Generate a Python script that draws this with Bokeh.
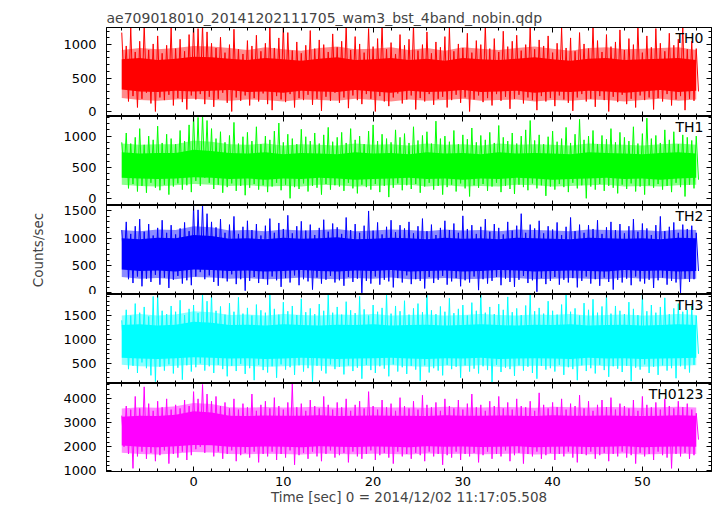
import numpy as np
from bokeh.plotting import figure
from bokeh.models import Range1d, LinearAxis, SingleIntervalTicker, Label, CustomJSTickFormatter
from bokeh.layouts import column
from bokeh.embed import file_html
from bokeh.resources import INLINE

TITLE = "ae709018010_20141202111705_wam3_bst_4band_nobin.qdp"
X_LABEL = "Time [sec] 0 = 2014/12/02 11:17:05.508"
Y_LABEL = "Counts/sec"
BANDS = ["TH0", "TH1", "TH2", "TH3", "TH0123"]
COLORS = ["#ff0000", "#00ff00", "#0000ff", "#00ffff", "#ff00ff"]

T_START = -8.0      # first time bin [sec]
PEAK_STEP = 0.5     # spacing of the peak / trough samples [sec]
CORE_STEP = 2.0     # spacing of the dense-band samples [sec]

# ---- TH0 ----
th0_hi = [1180, 980, 1250, 890, 1050, 1300, 920, 1010, 1130, 870, 990, 1260, 940, 1080, 900, 1150,
          1300, 1240, 1300, 1190, 1020, 950, 1110, 880, 1000, 1230, 930, 860, 1060, 980, 1140, 900,
          1020, 1270, 950, 1100, 1300, 1180, 910, 1040, 870, 990, 1210, 940, 1070, 1000, 890, 1160,
          960, 1050, 1300, 920, 1120, 1010, 880, 1240, 970, 1090, 1300, 930, 1030, 860, 1150, 990,
          1080, 1300, 910, 1000, 1190, 870, 1040, 960, 1120, 1260, 900, 1010, 950, 1170, 880, 1060,
          1000, 1300, 940, 1090, 890, 1200, 970, 1050, 1140, 910, 1000, 1280, 930, 1070, 980, 1130,
          880, 1020, 1250, 950, 1100, 900, 1180, 1010, 940, 1300, 1060, 890, 1150, 970, 1040, 1220,
          920, 1090, 1000, 1300, 880, 1130, 960, 1240, 1020, 900, 1170, 990, 1080, 1300, 930, 1050,
          940]
th0_lo = [420, 150, 230, 60, 190, 280, 120, 0, 210, 170, 250, 90, 200, 140, 30, 240,
          180, 260, 110, 220, 70, 190, 280, 130, 0, 210, 160, 240, 90, 200, 150, 270,
          110, 20, 230, 180, 140, 260, 60, 200, 170, 250, 100, 190, 10, 220, 160, 280,
          130, 210, 50, 240, 170, 110, 260, 190, 0, 230, 150, 80, 210, 270, 120, 180,
          240, 30, 200, 150, 260, 100, 190, 220, 60, 170, 250, 130, 210, 0, 180, 240,
          140, 200, 90, 260, 160, 220, 40, 190, 250, 120, 210, 170, 20, 230, 150, 200,
          80, 240, 180, 130, 10, 210, 260, 150, 190, 70, 230, 170, 0, 220, 140, 250,
          110, 190, 60, 240, 170, 210, 30, 200, 150, 260, 90, 180, 230, 20, 190, 160,
          300]
th0_core_lo = [330, 300, 290, 310, 300, 310, 320, 290, 300, 280, 310, 300, 290, 320, 300, 280, 310,
               290, 300, 320, 290, 300, 310, 280, 300, 290, 310, 300, 280, 300, 320, 290, 310]
th0_core_hi = [780, 800, 770, 790, 820, 810, 790, 770, 800, 780, 760, 790, 810, 770, 780, 800, 770,
               790, 760, 800, 780, 770, 790, 810, 780, 760, 790, 800, 770, 780, 790, 800, 770]
th0_fringe_lo = [200, 170, 160, 180, 190, 170, 160, 180, 170, 150, 180, 170, 160, 190, 170, 150, 180,
                 160, 170, 190, 160, 170, 180, 150, 170, 160, 180, 170, 150, 170, 190, 160, 180]
th0_fringe_hi = [920, 950, 930, 950, 980, 970, 950, 920, 960, 930, 910, 950, 970, 930, 940, 960, 920,
                 950, 910, 960, 940, 920, 950, 970, 940, 910, 950, 960, 930, 940, 950, 960, 920]

# ---- TH1 ----
th1_hi = [900, 1050, 880, 980, 1120, 860, 1000, 940, 1160, 890, 1030, 960, 870, 1090, 920, 1180,
          1340, 1300, 1340, 1250, 1120, 960, 1070, 900, 1010, 1220, 880, 990, 1060, 920, 1150, 870,
          1000, 940, 1080, 1210, 900, 1030, 960, 870, 1110, 990, 920, 1050, 880, 1020, 1140, 910,
          980, 1060, 890, 1120, 940, 1000, 870, 1080, 1180, 920, 1030, 960, 900, 1100, 980, 1040,
          890, 1150, 930, 1010, 1070, 880, 1240, 960, 1000, 910, 1090, 870, 1020, 950, 1130, 900,
          1010, 940, 1060, 890, 1170, 980, 920, 1050, 880, 1000, 1100, 1250, 930, 1020, 870, 990,
          1080, 910, 960, 1140, 890, 1030, 1270, 940, 1000, 1090, 870, 1010, 950, 1120, 900, 1060,
          980, 920, 1150, 880, 1040, 1290, 960, 1010, 890, 1100, 940, 1070, 870, 1020, 980, 930,
          1000]
th1_lo = [380, 160, 230, 110, 200, 90, 250, 170, 130, 220, 60, 190, 240, 140, 210, 100,
          280, 200, 330, 250, 150, 220, 90, 180, 240, 120, 200, 50, 170, 230, 140, 210,
          100, 190, 250, 130, 220, 0, 180, 150, 240, 110, 200, 170, 60, 230, 140, 210,
          190, 120, 250, 160, 80, 220, 180, 140, 230, 100, 200, 20, 170, 240, 130, 210,
          150, 230, 90, 190, 250, 140, 200, 60, 180, 220, 110, 240, 160, 30, 210, 170,
          230, 120, 190, 250, 100, 200, 150, 70, 220, 180, 130, 240, 160, 210, 40, 190,
          140, 230, 180, 100, 250, 160, 210, 0, 190, 140, 230, 120, 200, 170, 80, 220,
          150, 240, 110, 190, 60, 210, 170, 230, 140, 200, 100, 250, 180, 30, 220, 160,
          300]
th1_core_lo = [330, 320, 310, 320, 340, 330, 310, 320, 300, 320, 310, 330, 320, 300, 310, 320, 330,
               310, 320, 300, 320, 310, 330, 320, 300, 310, 320, 330, 310, 320, 300, 320, 330]
th1_core_hi = [740, 720, 730, 730, 780, 760, 730, 720, 740, 710, 730, 720, 710, 740, 720, 730, 710,
               740, 720, 730, 710, 740, 720, 730, 720, 710, 740, 730, 720, 710, 730, 740, 720]
th1_fringe_lo = [220, 200, 190, 210, 230, 220, 200, 210, 190, 200, 190, 220, 210, 190, 200, 210, 220,
                 190, 210, 190, 200, 190, 220, 210, 190, 200, 210, 220, 190, 200, 190, 210, 220]
th1_fringe_hi = [880, 860, 870, 870, 930, 910, 870, 860, 880, 850, 870, 860, 850, 880, 860, 870, 850,
                 880, 860, 870, 850, 880, 860, 870, 860, 850, 880, 870, 860, 850, 870, 880, 860]

# ---- TH2 ----
th2_hi = [1150, 1300, 1080, 1220, 1350, 1120, 1260, 1050, 1190, 1330, 1100, 1240, 1070, 1180, 1290, 1130,
          1600, 1520, 1620, 1450, 1300, 1200, 1350, 1100, 1250, 1400, 1080, 1210, 1320, 1150, 1260, 1050,
          1230, 1360, 1100, 1280, 1170, 1420, 1090, 1220, 1310, 1140, 1250, 1060, 1190, 1340, 1120, 1270,
          1200, 1080, 1380, 1150, 1260, 1100, 1230, 1500, 1140, 1290, 1070, 1210, 1330, 1110, 1240, 1180,
          1300, 1090, 1220, 1360, 1130, 1250, 1060, 1190, 1320, 1150, 1270, 1100, 1410, 1170, 1240, 1080,
          1210, 1350, 1120, 1260, 1190, 1070, 1300, 1140, 1230, 1450, 1100, 1250, 1180, 1320, 1090, 1220,
          1160, 1290, 1060, 1210, 1380, 1130, 1250, 1100, 1240, 1170, 1330, 1080, 1200, 1300, 1150, 1260,
          1090, 1220, 1350, 1120, 1270, 1180, 1060, 1240, 1400, 1130, 1210, 1290, 1100, 1250, 1170, 1230,
          1100]
th2_lo = [500, 250, 180, 300, 120, 260, 200, 330, 150, 280, 90, 240, 310, 170, 230, 140,
          300, 380, 250, 320, 200, 130, 270, 210, 340, 160, 250, 40, 220, 290, 180, 260,
          150, 300, 230, 110, 270, 190, 320, 140, 250, 210, 60, 280, 170, 240, 310, 190,
          230, 130, 290, 200, 260, 0, 220, 170, 300, 150, 240, 210, 100, 270, 190, 320,
          160, 250, 220, 80, 290, 180, 240, 310, 150, 210, 270, 120, 230, 190, 300, 50,
          250, 170, 220, 290, 140, 260, 200, 110, 240, 310, 180, 230, 20, 270, 160, 220,
          290, 150, 240, 190, 270, 100, 220, 300, 170, 250, 130, 280, 200, 60, 240, 190,
          260, 140, 300, 210, 170, 240, 90, 230, 280, 150, 220, 190, 0, 260, 200, 250,
          400]
th2_core_lo = [430, 400, 410, 390, 430, 420, 400, 410, 390, 400, 420, 400, 390, 410, 400, 420, 390,
               400, 410, 390, 400, 420, 410, 390, 400, 410, 400, 390, 420, 400, 410, 390, 400]
th2_core_hi = [1000, 980, 1010, 1000, 1060, 1040, 990, 1000, 980, 1010, 990, 1000, 1020, 980, 990, 1010, 1000,
               980, 1010, 990, 1000, 980, 1010, 1000, 990, 980, 1010, 1000, 990, 1000, 980, 1010, 1000]
th2_fringe_lo = [290, 260, 270, 250, 290, 280, 260, 270, 250, 260, 280, 260, 250, 270, 260, 280, 250,
                 260, 270, 250, 260, 280, 270, 250, 260, 270, 260, 250, 280, 260, 270, 250, 260]
th2_fringe_hi = [1150, 1130, 1160, 1150, 1220, 1200, 1140, 1150, 1130, 1160, 1140, 1150, 1170, 1130, 1140, 1160, 1150,
                 1130, 1160, 1140, 1150, 1130, 1160, 1150, 1140, 1130, 1160, 1150, 1140, 1150, 1130, 1160, 1150]

# ---- TH3 ----
th3_hi = [1400, 1620, 1500, 1750, 1560, 1680, 1480, 1900, 1950, 1600, 1530, 1700, 1580, 1820, 1510, 1640,
          1720, 1550, 1950, 1800, 1950, 1600, 1690, 1520, 1760, 1580, 1880, 1540, 1660, 1500, 1730, 1610,
          1560, 1950, 1640, 1520, 1780, 1590, 1700, 1510, 1850, 1570, 1650, 1530, 1740, 1600, 1950, 1560,
          1680, 1520, 1790, 1610, 1550, 1900, 1630, 1500, 1720, 1580, 1660, 1950, 1540, 1700, 1590, 1810,
          1520, 1650, 1750, 1570, 1950, 1610, 1530, 1690, 1580, 1860, 1550, 1640, 1720, 1500, 1770, 1600,
          1950, 1560, 1680, 1530, 1740, 1620, 1890, 1570, 1650, 1510, 1710, 1950, 1590, 1660, 1540, 1800,
          1600, 1520, 1730, 1950, 1580, 1650, 1500, 1760, 1620, 1840, 1560, 1690, 1950, 1540, 1700, 1600,
          1530, 1780, 1640, 1510, 1950, 1590, 1720, 1560, 1680, 1870, 1530, 1650, 1750, 1580, 1620, 1700,
          1500]
th3_lo = [700, 380, 450, 300, 520, 400, 250, 120, 430, 350, 480, 290, 410, 160, 460, 330,
          420, 500, 350, 440, 300, 470, 380, 230, 450, 340, 490, 280, 400, 150, 470, 360,
          310, 440, 200, 480, 370, 420, 260, 460, 330, 400, 120, 450, 350, 290, 480, 380,
          430, 270, 460, 340, 410, 180, 470, 360, 300, 440, 390, 230, 480, 330, 420, 280,
          450, 370, 140, 460, 310, 400, 350, 250, 470, 380, 430, 200, 460, 330, 390, 290,
          440, 360, 110, 470, 320, 410, 380, 240, 460, 350, 430, 300, 180, 450, 370, 400,
          330, 470, 260, 420, 380, 150, 460, 340, 400, 290, 470, 360, 220, 440, 390, 320,
          450, 130, 410, 370, 480, 300, 430, 260, 460, 350, 400, 190, 440, 380, 310, 470,
          700]
th3_core_lo = [620, 600, 590, 610, 630, 620, 600, 610, 590, 600, 620, 610, 590, 600, 610, 620, 600,
               590, 610, 600, 620, 590, 600, 610, 600, 590, 620, 600, 610, 590, 600, 610, 620]
th3_core_hi = [1300, 1320, 1290, 1310, 1370, 1350, 1300, 1310, 1290, 1320, 1300, 1290, 1310, 1300, 1320, 1290, 1300,
               1310, 1290, 1300, 1320, 1300, 1290, 1310, 1300, 1320, 1290, 1300, 1310, 1290, 1300, 1320, 1300]
th3_fringe_lo = [470, 440, 430, 450, 470, 460, 440, 450, 430, 440, 460, 450, 430, 440, 450, 460, 440,
                 430, 450, 440, 460, 430, 440, 450, 440, 430, 460, 440, 450, 430, 440, 450, 460]
th3_fringe_hi = [1500, 1530, 1500, 1520, 1590, 1570, 1510, 1520, 1500, 1530, 1510, 1500, 1520, 1510, 1530, 1500, 1510,
                 1520, 1500, 1510, 1530, 1510, 1500, 1520, 1510, 1530, 1500, 1510, 1520, 1500, 1510, 1530, 1510]

# ---- TH0123 ----
th0123_hi = [3300, 3700, 3550, 4100, 3600, 4500, 3800, 3500, 3900, 3650, 4000, 3550, 3750, 3600, 3950, 3700,
             4300, 4000, 4600, 4200, 3900, 4100, 3700, 3850, 3600, 4000, 3550, 3800, 3650, 4200, 3500, 3750,
             3900, 3600, 4050, 3700, 3550, 3850, 4650, 3650, 3800, 3500, 3950, 3700, 3600, 4100, 3750, 3550,
             3850, 3650, 4000, 3500, 3750, 3900, 3600, 4300, 3700, 3550, 3950, 3650, 3800, 3500, 4050, 3700,
             3600, 3900, 3550, 4150, 3750, 3650, 3850, 3500, 4000, 3700, 3600, 3950, 3550, 3800, 4200, 3650,
             3750, 3500, 3900, 3700, 4100, 3600, 3850, 3550, 4000, 3700, 3650, 3900, 3500, 4250, 3750, 3600,
             3850, 3650, 4000, 3550, 3800, 3700, 4150, 3600, 3900, 3500, 3750, 3950, 3650, 4050, 3550, 3800,
             3700, 3600, 3950, 3500, 4100, 3750, 3650, 3850, 3550, 4000, 3700, 3600, 3900, 3650, 3800, 3550,
             3400]
th0123_lo = [2000, 1700, 1100, 1600, 1800, 1500, 1750, 1400, 1650, 1850, 1300, 1700, 1550, 1800, 1450, 1650,
             1900, 2000, 1750, 2100, 1600, 1800, 1500, 1700, 1850, 1400, 1650, 1750, 1550, 1800, 1350, 1700,
             1600, 1800, 1450, 1700, 1550, 1850, 1250, 1650, 1750, 1500, 1800, 1600, 1400, 1700, 1850, 1550,
             1650, 1750, 1350, 1800, 1600, 1500, 1700, 1850, 1450, 1650, 1750, 1550, 1300, 1800, 1600, 1700,
             1500, 1750, 1650, 1400, 1800, 1600, 1700, 1250, 1650, 1550, 1800, 1450, 1700, 1600, 1750, 1350,
             1650, 1800, 1500, 1700, 1600, 1850, 1400, 1650, 1750, 1300, 1700, 1600, 1800, 1500, 1650, 1750,
             1450, 1700, 1600, 1800, 1550, 1350, 1700, 1650, 1800, 1500, 1650, 1750, 1400, 1700, 1600, 1800,
             1550, 1650, 1300, 1750, 1600, 1700, 1450, 1800, 1650, 1550, 1100, 1700, 1600, 1750, 1500, 1650,
             2300]
th0123_core_lo = [2050, 2000, 1980, 2020, 2080, 2060, 2000, 1990, 2010, 2000, 1980, 2020, 2000, 1990, 2010, 2000, 1980,
                  2020, 2000, 2010, 1990, 2000, 2020, 1980, 2000, 2010, 1990, 2000, 2020, 1980, 2000, 2010, 2000]
th0123_core_hi = [3250, 3300, 3280, 3340, 3480, 3430, 3300, 3280, 3310, 3290, 3300, 3320, 3280, 3300, 3310, 3290, 3300,
                  3280, 3320, 3300, 3290, 3310, 3300, 3280, 3320, 3300, 3290, 3310, 3300, 3280, 3300, 3320, 3290]
th0123_fringe_lo = [1750, 1700, 1680, 1720, 1780, 1760, 1700, 1690, 1710, 1700, 1680, 1720, 1700, 1690, 1710, 1700, 1680,
                    1720, 1700, 1710, 1690, 1700, 1720, 1680, 1700, 1710, 1690, 1700, 1720, 1680, 1700, 1710, 1700]
th0123_fringe_hi = [3600, 3650, 3630, 3690, 3830, 3780, 3650, 3630, 3660, 3640, 3650, 3670, 3630, 3650, 3660, 3640, 3650,
                    3630, 3670, 3650, 3640, 3660, 3650, 3630, 3670, 3650, 3640, 3660, 3650, 3630, 3650, 3670, 3640]

X_RANGE = (-9.7, 57.7)
Y_RANGES = [(-75, 1256), (-115, 1315), (-30, 1600), (80, 1940), (970, 4640)]
Y_TICK_STEP = [500, 500, 500, 500, 1000]

SERIES = [
    (th0_hi, th0_lo, th0_core_lo, th0_core_hi, th0_fringe_lo, th0_fringe_hi),
    (th1_hi, th1_lo, th1_core_lo, th1_core_hi, th1_fringe_lo, th1_fringe_hi),
    (th2_hi, th2_lo, th2_core_lo, th2_core_hi, th2_fringe_lo, th2_fringe_hi),
    (th3_hi, th3_lo, th3_core_lo, th3_core_hi, th3_fringe_lo, th3_fringe_hi),
    (th0123_hi, th0123_lo, th0123_core_lo, th0123_core_hi, th0123_fringe_lo, th0123_fringe_hi),
]

FONT = "DejaVu Sans"
W = 715
BORDER_L = 106
BORDER_R = 4
FRAME_H = 89
TOP_BORDER = 27
BOTTOM_BORDER = 35

xr = Range1d(*X_RANGE)
blank = CustomJSTickFormatter(code="return ''")


def style_axis(ax, ticker, labels):
    ax.ticker = ticker
    ax.axis_line_color = "black"
    ax.axis_line_width = 1
    ax.major_tick_line_color = "black"
    ax.minor_tick_line_color = "black"
    ax.major_tick_in = 5
    ax.major_tick_out = 0
    ax.minor_tick_in = 3
    ax.minor_tick_out = 0
    ax.major_label_text_font = FONT
    ax.major_label_text_color = "black"
    ax.major_label_text_font_size = "13px"
    if not labels:
        ax.formatter = blank
        ax.major_label_standoff = 0


figs = []
n = len(BANDS)
for i in range(n):
    first = i == 0
    last = i == n - 1
    h = FRAME_H + (TOP_BORDER if first else 0) + (BOTTOM_BORDER if last else 0)
    yr = Range1d(*Y_RANGES[i])
    p = figure(width=W, height=h, x_range=xr, y_range=yr,
               output_backend="svg", toolbar_location=None,
               min_border_left=BORDER_L, min_border_right=BORDER_R,
               min_border_top=TOP_BORDER if first else 0,
               min_border_bottom=BOTTOM_BORDER if last else 0,
               background_fill_color="white", border_fill_color="white",
               outline_line_color="black", outline_line_width=1)
    p.grid.visible = False

    xt = SingleIntervalTicker(interval=10, num_minor_ticks=5)
    yt = SingleIntervalTicker(interval=Y_TICK_STEP[i], num_minor_ticks=5)

    bottom_ax = p.xaxis[0]
    left_ax = p.yaxis[0]
    style_axis(bottom_ax, xt, last)
    style_axis(left_ax, yt, True)
    left_ax.major_label_standoff = 10

    top_ax = LinearAxis()
    style_axis(top_ax, xt, False)
    p.add_layout(top_ax, "above")
    right_ax = LinearAxis()
    style_axis(right_ax, yt, False)
    p.add_layout(right_ax, "right")

    if last:
        bottom_ax.major_label_standoff = 5
        bottom_ax.axis_label = X_LABEL
        bottom_ax.axis_label_text_font = FONT
        bottom_ax.axis_label_text_font_size = "13.5px"
        bottom_ax.axis_label_text_font_style = "normal"
        bottom_ax.axis_label_standoff = 0
    if i == 2:
        left_ax.axis_label = Y_LABEL
        left_ax.axis_label_text_font = FONT
        left_ax.axis_label_text_font_size = "13.5px"
        left_ax.axis_label_text_font_style = "normal"
        left_ax.axis_label_standoff = 14
    if first:
        p.title.text = TITLE
        p.title.text_font = FONT
        p.title.text_font_size = "14px"
        p.title.text_font_style = "normal"
        p.title.align = "left"
        p.title.standoff = 4

    hi, lo, clo, chi, flo, fhi = SERIES[i]
    tc = T_START + CORE_STEP * np.arange(len(clo))
    p.varea(x=tc, y1=flo, y2=fhi, fill_color=COLORS[i], fill_alpha=0.45)
    p.varea(x=tc, y1=clo, y2=chi, fill_color=COLORS[i])
    xs, ys = [], []
    for k, (a, b) in enumerate(zip(hi, lo)):
        t = T_START + k * PEAK_STEP
        xs += [t, t + PEAK_STEP / 2]
        ys += [a, b]
    p.line(xs, ys, line_color=COLORS[i], line_width=1)

    p.add_layout(Label(x=X_RANGE[1], y=Y_RANGES[i][1], x_offset=-8, y_offset=-2,
                       text=BANDS[i], text_align="right", text_baseline="top",
                       text_font=FONT, text_font_size="14px", text_color="black"))
    figs.append(p)

layout = column(*figs, spacing=0)
open("out.html", "w").write(file_html(layout, INLINE))
